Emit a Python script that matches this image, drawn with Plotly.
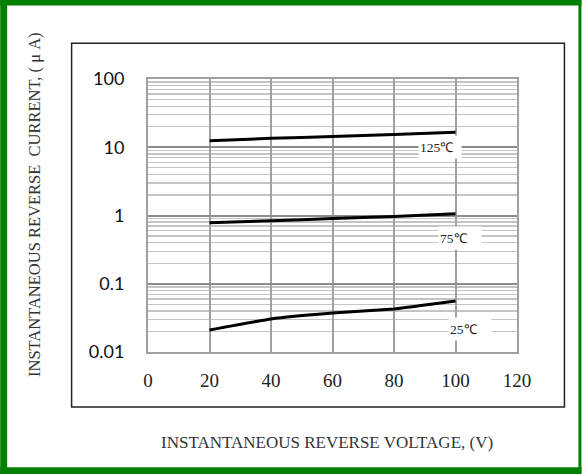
import math
import plotly.graph_objects as go

voltage = [20, 40, 60, 80, 100]
current_125 = [12.4, 13.5, 14.4, 15.4, 16.6]
current_75 = [0.78, 0.84, 0.90, 0.97, 1.06]
current_25 = [0.021, 0.0305, 0.0372, 0.0427, 0.0558]
series_labels = ["125℃", "75℃", "25℃"]
label_x = [87.7, 94.2, 97.4]
label_y = [10, 0.468, 0.0217]
y_tickvals = [0.01, 0.1, 1, 10, 100]
y_ticktext = ["0.01", "0.1", "1", "10", "100"]
x_tickvals = [0, 20, 40, 60, 80, 100, 120]

W, H = 582, 474
L, R, T, B = 148, 517.5, 79.3, 352

def px(x):
    return (x - L) / (R - L)

def py(y):
    return (B - y) / (B - T)

fig = go.Figure()
for ys in [current_125, current_75, current_25]:
    fig.add_trace(go.Scatter(x=voltage, y=ys, mode="lines",
                             line=dict(color="black", width=3, shape="spline", smoothing=0.3),
                             showlegend=False, hoverinfo="skip"))

for t, lx, ly in zip(series_labels, label_x, label_y):
    fig.add_annotation(x=lx, y=math.log10(ly), yref="y", xref="x", text=t, showarrow=False,
                       xanchor="left", yanchor="middle", align="left",
                       bgcolor="white", width=40, height=20,
                       font=dict(family="Liberation Serif", size=13.5, color="#222"))

shapes = []
green = "#008000"
shapes += [
    dict(type="rect", xref="paper", yref="paper", x0=px(0), x1=px(W), y0=py(0), y1=py(6), fillcolor=green, line_width=0, layer="above"),
    dict(type="rect", xref="paper", yref="paper", x0=px(0), x1=px(W), y0=py(467), y1=py(H), fillcolor=green, line_width=0, layer="above"),
    dict(type="rect", xref="paper", yref="paper", x0=px(0), x1=px(7), y0=py(0), y1=py(H), fillcolor=green, line_width=0, layer="above"),
    dict(type="rect", xref="paper", yref="paper", x0=px(579), x1=px(W), y0=py(0), y1=py(H), fillcolor=green, line_width=0, layer="above"),
]
shapes.append(dict(type="rect", xref="paper", yref="paper", x0=px(71.5), x1=px(565), y0=py(43.5), y1=py(407),
                   line=dict(color="#222", width=1.5), fillcolor="rgba(0,0,0,0)", layer="below"))
fig.update_layout(shapes=shapes)

fig.add_annotation(xref="paper", yref="paper", x=px(327), y=py(442), text="INSTANTANEOUS REVERSE VOLTAGE, (V)",
                   showarrow=False, xanchor="center", yanchor="middle",
                   font=dict(family="Liberation Serif", size=17, color="#333"))
fig.add_annotation(xref="paper", yref="paper", x=px(35), y=py(205), text="INSTANTANEOUS REVERSE  CURRENT, ( μ A)",
                   showarrow=False, xanchor="center", yanchor="middle", textangle=-90,
                   font=dict(family="Liberation Serif", size=16.5, color="#333"))

fig.update_xaxes(range=[0, 120], tickvals=x_tickvals, showgrid=True, gridcolor="#a0a0a0", gridwidth=2,
                 showline=True, mirror=True, linecolor="#a0a0a0", linewidth=2, zeroline=False,
                 ticks="", ticklabelstandoff=10,
                 tickfont=dict(family="Liberation Serif", size=19, color="#222"))
fig.update_yaxes(type="log", range=[-2, 2], tickvals=y_tickvals, ticktext=y_ticktext,
                 showgrid=True, gridcolor="#8c8c8c", gridwidth=2,
                 minor=dict(dtick="D1", showgrid=True, gridcolor="#c4c4c4", gridwidth=1.3, ticks=""),
                 showline=True, mirror=True, linecolor="#a0a0a0", linewidth=2, zeroline=False,
                 ticks="", ticklabelstandoff=18,
                 tickfont=dict(family="Lato", size=18, color="#111"))

fig.update_layout(width=W, height=H, margin=dict(l=L, r=W - R, t=T, b=H - B),
                  paper_bgcolor="white", plot_bgcolor="white", showlegend=False)
fig.write_html("out.html", config={"displayModeBar": False, "staticPlot": True},
               post_script="document.body.style.margin='0';document.body.style.overflow='hidden';")
